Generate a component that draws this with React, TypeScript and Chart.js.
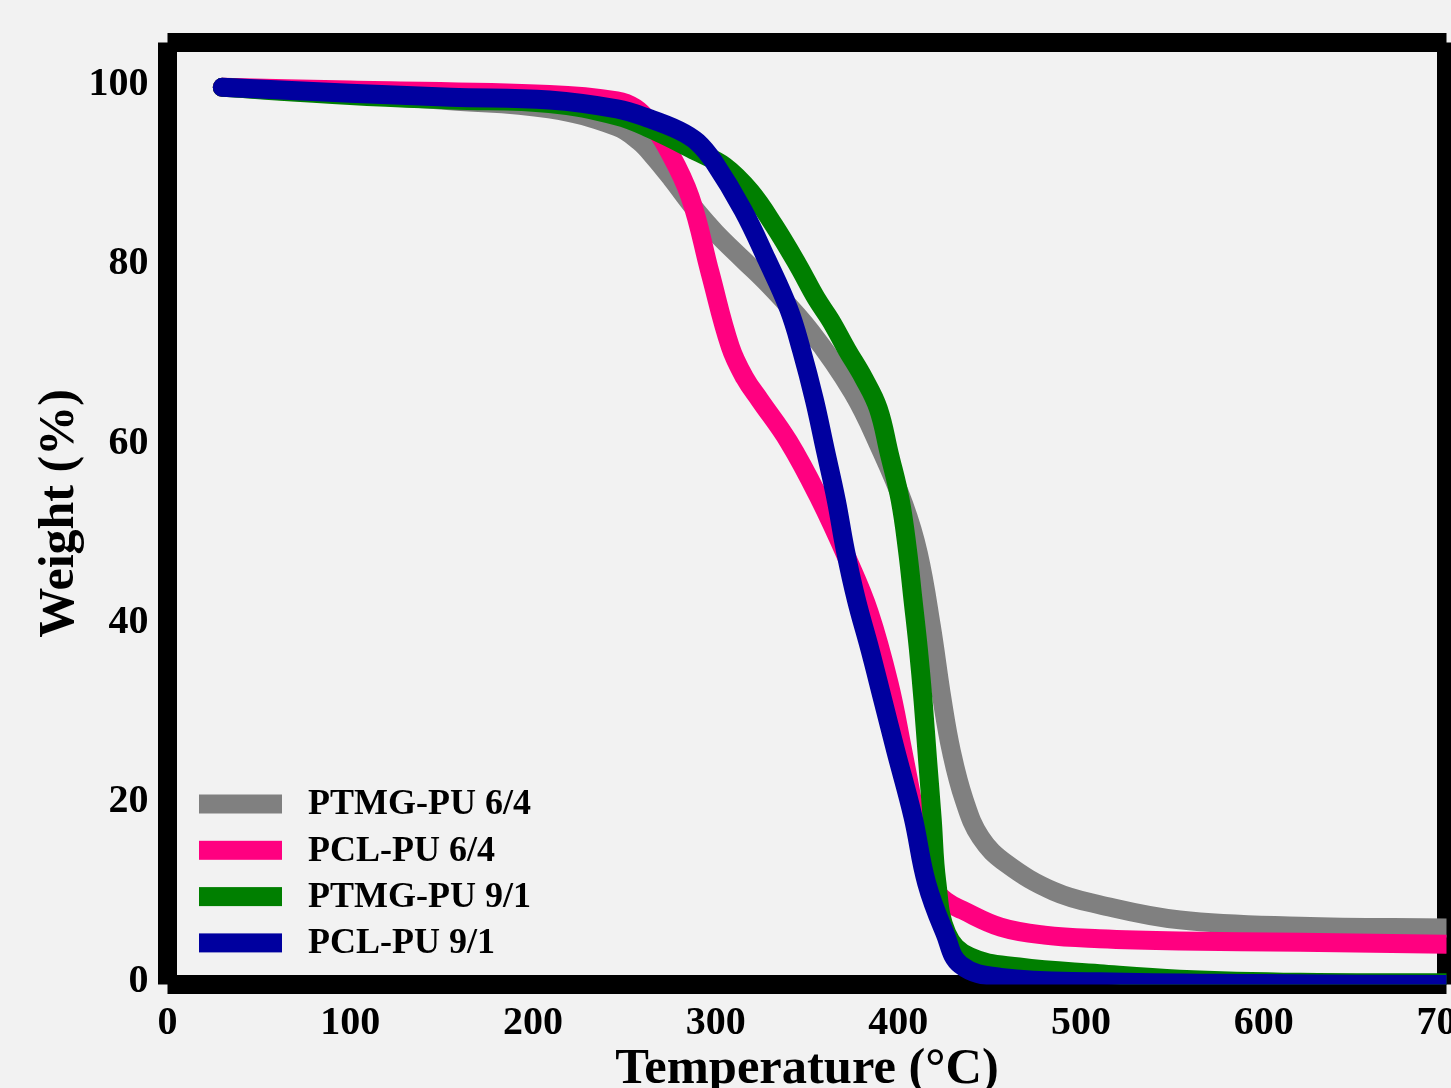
import React, { useEffect, useRef } from "react";
import { Chart, registerables } from "chart.js";

Chart.register(...registerables);

// ---- data ----
const seriesLabels = ["PTMG-PU 6/4", "PCL-PU 6/4", "PTMG-PU 9/1", "PCL-PU 9/1"];
const seriesColors = ["#808080", "#ff0080", "#007f00", "#00009f"];

const ptmg64Temp = [30, 100, 155, 209, 246, 258, 266, 276, 288, 300, 315, 330, 352, 375, 390, 403, 411, 418, 424, 429, 436, 445, 459, 485, 510, 554, 620, 700];
const ptmg64Weight = [100, 99.2, 98.5, 97.6, 95.6, 94.0, 92.3, 89.8, 86.6, 83.8, 80.8, 77.8, 72.8, 66.0, 59.8, 53.5, 48.0, 40.0, 31.7, 26.0, 20.6, 16.4, 13.5, 10.4, 8.9, 7.2, 6.5, 6.3];

const pcl64Temp = [30, 100, 209, 246, 256, 264, 273, 286, 297, 308, 316, 324, 340, 356, 372, 384, 395, 402, 409, 414, 419.5, 426, 435, 456, 480, 510, 554, 620, 700];
const pcl64Weight = [100, 99.7, 99.2, 98.5, 97.7, 96.1, 93.4, 87.8, 79.3, 71.1, 67.6, 65.2, 60.5, 54.5, 47.5, 41.5, 33.5, 26.5, 19.0, 13.5, 10.7, 9.3, 8.3, 6.4, 5.5, 5.1, 4.85, 4.7, 4.5];

const ptmg91Temp = [30, 100, 155, 209, 246, 264, 291, 305, 319, 332, 345, 355, 363, 372, 381, 389, 395, 401, 405, 408, 411, 413.5, 416, 418.5, 421, 426.5, 439, 466, 510, 554, 620, 700];
const ptmg91Weight = [100, 99.1, 98.6, 98.2, 96.8, 95.4, 92.7, 91.2, 88.4, 84.6, 80.2, 76.5, 74.0, 70.7, 67.6, 64.2, 59.2, 54.0, 48.4, 42.9, 37.3, 31.7, 25.0, 18.5, 11.5, 5.7, 3.1, 1.95, 1.2, 0.6, 0.25, 0.2];

const pcl91Temp = [30, 100, 155, 209, 246, 264, 280, 290, 299, 315, 328, 340, 347, 354, 360, 366, 371, 377, 384.5, 391.5, 398.5, 408, 415.5, 425.5, 434, 456, 510, 600, 700];
const pcl91Weight = [100, 99.35, 98.9, 98.6, 97.6, 96.5, 95.2, 93.9, 91.7, 86.3, 80.8, 75.3, 70.7, 65.2, 59.6, 54.0, 48.4, 42.9, 37.3, 31.7, 26.1, 18.7, 11.3, 5.7, 2.2, 0.8, 0.3, 0.1, 0];

const xTicks = [0, 100, 200, 300, 400, 500, 600, 700];
const yTicks = [0, 20, 40, 60, 80, 100];

const seriesTemps = [ptmg64Temp, pcl64Temp, ptmg91Temp, pcl91Temp];
const seriesWeights = [ptmg64Weight, pcl64Weight, ptmg91Weight, pcl91Weight];

const FONT = "'Liberation Serif', 'Times New Roman', serif";
const BG = "#f2f2f2";

const backgroundPlugin = {
  id: "bgFill",
  beforeDraw(chart: any) {
    const { ctx, width, height } = chart;
    ctx.save();
    ctx.fillStyle = BG;
    ctx.fillRect(0, 0, width, height);
    ctx.restore();
  },
};

const framePlugin = {
  id: "frame",
  beforeDatasetsDraw(chart: any) {
    const { ctx } = chart;
    const { left, right, top, bottom } = chart.chartArea;
    ctx.save();
    ctx.strokeStyle = "#000";
    ctx.lineWidth = 19;
    ctx.lineCap = "butt";
    const seg = (x1: number, y1: number, x2: number, y2: number) => {
      ctx.beginPath();
      ctx.moveTo(x1, y1);
      ctx.lineTo(x2, y2);
      ctx.stroke();
    };
    seg(left, top, right, top);
    seg(left, top, left, bottom);
    seg(left, bottom, right, bottom);
    seg(right, top, right, bottom);
    ctx.restore();
  },
};

const legendPlugin = {
  id: "innerLegend",
  afterDatasetsDraw(chart: any) {
    const { ctx } = chart;
    const { left, bottom } = chart.chartArea;
    ctx.save();
    ctx.font = `bold 36px ${FONT}`;
    ctx.textBaseline = "middle";
    ctx.textAlign = "left";
    chart.data.datasets.forEach((ds: any, i: number) => {
      const cy = bottom - 180.5 + i * 46.3;
      ctx.fillStyle = ds.borderColor;
      ctx.fillRect(left + 31.5, cy - 9.5, 83, 19);
      ctx.fillStyle = "#000";
      ctx.fillText(ds.label, left + 140.5, cy + 1);
    });
    ctx.restore();
  },
};

export default function App() {
  const canvasRef = useRef<HTMLCanvasElement | null>(null);

  useEffect(() => {
    document.body.style.margin = "0";
    document.body.style.background = BG;
    const canvas = canvasRef.current;
    if (!canvas) return;

    const datasets = seriesLabels.map((label, i) => ({
      label,
      data: seriesTemps[i].map((t, k) => ({ x: t, y: seriesWeights[i][k] })),
      borderColor: seriesColors[i],
      backgroundColor: seriesColors[i],
      borderWidth: 19,
      borderCapStyle: "round" as const,
      borderJoinStyle: "round" as const,
      pointRadius: 0,
      pointHoverRadius: 0,
      tension: 0.4,
      fill: false,
      order: 4 - i,
    }));

    const chart = new Chart(canvas, {
      type: "line",
      data: { datasets },
      options: {
        animation: false,
        responsive: false,
        devicePixelRatio: 1,
        events: [],
        layout: { padding: { top: 42.5, right: 53.5, left: 0, bottom: 0 } },
        plugins: {
          legend: { display: false },
          tooltip: { enabled: false },
        },
        scales: {
          x: {
            type: "linear",
            min: 0,
            max: 700,
            grid: { display: false },
            border: { display: false },
            afterBuildTicks: (s: any) => {
              s.ticks = xTicks.map((v) => ({ value: v }));
            },
            afterFit: (s: any) => {
              s.height = 1120 - 984.5;
              s.paddingLeft = 0;
              s.paddingRight = 0;
            },
            ticks: {
              color: "#000",
              font: { family: FONT, weight: "bold", size: 40 },
              padding: 7.5,
              maxRotation: 0,
              autoSkip: false,
            },
            title: {
              display: true,
              text: "Temperature (°C)",
              color: "#000",
              font: { family: FONT, weight: "bold", size: 50.5 },
              padding: { top: 0, bottom: 19.5 },
            },
          },
          y: {
            type: "linear",
            min: 0,
            max: 105,
            grid: { display: false },
            border: { display: false },
            afterBuildTicks: (s: any) => {
              s.ticks = yTicks.map((v) => ({ value: v }));
            },
            afterFit: (s: any) => {
              s.width = 167.5;
              s.paddingTop = 0;
              s.paddingBottom = 0;
            },
            ticks: {
              color: "#000",
              font: { family: FONT, weight: "bold", size: 40 },
              padding: 11,
              labelOffset: -3,
              autoSkip: false,
            },
            title: {
              display: true,
              text: "Weight (%)",
              color: "#000",
              font: { family: FONT, weight: "bold", size: 50 },
              padding: { top: 30.5, bottom: 0 },
            },
          },
        },
      },
      plugins: [backgroundPlugin, framePlugin, legendPlugin],
    });

    return () => chart.destroy();
  }, []);

  return (
    <div
      style={{
        position: "fixed",
        left: 0,
        top: 0,
        width: 1451,
        height: 1088,
        overflow: "hidden",
        background: BG,
      }}
    >
      <canvas ref={canvasRef} width={1500} height={1120} style={{ display: "block" }} />
    </div>
  );
}
